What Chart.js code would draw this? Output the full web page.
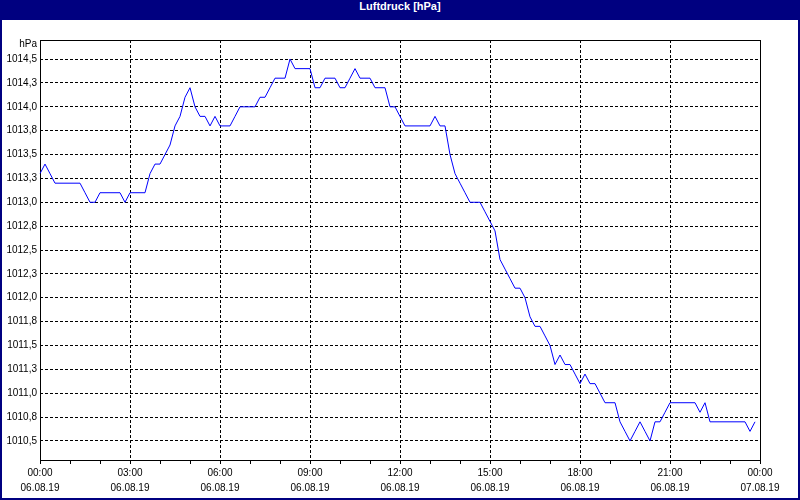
<!DOCTYPE html>
<html>
<head>
<meta charset="utf-8">
<script src="https://cdn.jsdelivr.net/npm/chart.js@4.4.1/dist/chart.umd.min.js"></script>
<style>
  html, body { margin: 0; padding: 0; background: #fff; }
  #frame {
    width: 800px; height: 500px; box-sizing: border-box;
    border: 2px solid #000080; border-top: 0;
  }
  #title {
    height: 20px; line-height: 19px; background: #000080; color: #fff;
    font: bold 11px "Liberation Sans", sans-serif; text-align: center;
  }
  canvas { display: block; }
</style>
</head>
<body>
<div id="frame">
  <div id="title">Luftdruck [hPa]</div>
  <canvas id="myChart" width="796" height="478"></canvas>
</div>
<script>
// Luftdruck, 10-Minuten-Werte vom 06.08.19
const pressure = [
  1013.3, 1013.4, 1013.3, 1013.2, 1013.2, 1013.2, 1013.2, 1013.2, 1013.2, 1013.1,
  1013.0, 1013.0, 1013.1, 1013.1, 1013.1, 1013.1, 1013.1, 1013.0, 1013.1, 1013.1,
  1013.1, 1013.1, 1013.3, 1013.4, 1013.4, 1013.5, 1013.6, 1013.8, 1013.9, 1014.1,
  1014.2, 1014.0, 1013.9, 1013.9, 1013.8, 1013.9, 1013.8, 1013.8, 1013.8, 1013.9,
  1014.0, 1014.0, 1014.0, 1014.0, 1014.1, 1014.1, 1014.2, 1014.3, 1014.3, 1014.3,
  1014.5, 1014.4, 1014.4, 1014.4, 1014.4, 1014.2, 1014.2, 1014.3, 1014.3, 1014.3,
  1014.2, 1014.2, 1014.3, 1014.4, 1014.3, 1014.3, 1014.3, 1014.2, 1014.2, 1014.2,
  1014.0, 1014.0, 1013.9, 1013.8, 1013.8, 1013.8, 1013.8, 1013.8, 1013.8, 1013.9,
  1013.8, 1013.8, 1013.5, 1013.3, 1013.2, 1013.1, 1013.0, 1013.0, 1013.0, 1012.9,
  1012.8, 1012.7, 1012.4, 1012.3, 1012.2, 1012.1, 1012.1, 1012.0, 1011.8, 1011.7,
  1011.7, 1011.6, 1011.5, 1011.3, 1011.4, 1011.3, 1011.3, 1011.2, 1011.1, 1011.2,
  1011.1, 1011.1, 1011.0, 1010.9, 1010.9, 1010.9, 1010.7, 1010.6, 1010.5, 1010.6,
  1010.7, 1010.6, 1010.5, 1010.7, 1010.7, 1010.8, 1010.9, 1010.9, 1010.9, 1010.9,
  1010.9, 1010.9, 1010.8, 1010.9, 1010.7, 1010.7, 1010.7, 1010.7, 1010.7, 1010.7,
  1010.7, 1010.7, 1010.6, 1010.7,
];

const xTickTimes = ['00:00', '03:00', '06:00', '09:00', '12:00', '15:00', '18:00', '21:00', '00:00'];
const xTickDates = ['06.08.19', '06.08.19', '06.08.19', '06.08.19', '06.08.19', '06.08.19', '06.08.19', '06.08.19', '07.08.19'];
const yTicks = [1010.5, 1010.75, 1011.0, 1011.25, 1011.5, 1011.75, 1012.0, 1012.25, 1012.5,
  1012.75, 1013.0, 1013.25, 1013.5, 1013.75, 1014.0, 1014.25, 1014.5];
const yUnit = 'hPa';

// one category per 10 minutes, 00:00 .. 24:00
const labels = [];
for (let m = 0; m <= 1440; m += 10) {
  const h = Math.floor(m / 60) % 24, mm = m % 60;
  labels.push(String(h).padStart(2, '0') + ':' + String(mm).padStart(2, '0'));
}

const fontFamily = '"Liberation Sans", sans-serif';

const framePlugin = {
  id: 'frame',
  beforeDatasetsDraw(chart) {
    const { ctx, chartArea: a } = chart;
    ctx.save();
    ctx.strokeStyle = '#000';
    ctx.lineWidth = 1;
    ctx.strokeRect(Math.round(a.left) + 0.5, Math.round(a.top) + 0.5,
      Math.round(a.right - a.left), Math.round(a.bottom - a.top));
    ctx.restore();
  },
  afterDraw(chart) {
    const { ctx, chartArea: a } = chart;
    ctx.save();
    ctx.fillStyle = '#000';
    ctx.font = '10px ' + fontFamily;
    ctx.textAlign = 'right';
    ctx.textBaseline = 'middle';
    ctx.fillText(yUnit, a.left - 3, a.top + 4);
    ctx.restore();
  },
};

const ctx = document.getElementById('myChart').getContext('2d');
const myChart = new Chart(ctx, {
  type: 'line',
  data: {
    labels: labels,
    datasets: [
      {
        label: 'Luftdruck',
        data: pressure,
        borderColor: '#0000ff',
        borderWidth: 1,
        pointRadius: 0,
        tension: 0,
        fill: false,
      },
    ],
  },
  options: {
    responsive: false,
    animation: false,
    layout: { padding: { left: 0, top: 20, right: 38, bottom: 0 } },
    plugins: {
      legend: { display: false },
      tooltip: { enabled: false },
    },
    scales: {
      x: {
        afterFit(scale) { scale.height = 38; },
        border: { display: false, dash: [3, 2] },
        grid: {
          color: (c) => (c.index % 18 === 0 && c.index > 0 && c.index < 144) ? '#000' : 'rgba(0,0,0,0)',
          tickColor: (c) => (c.index % 6 === 0) ? '#000' : 'rgba(0,0,0,0)',
          tickLength: 4,
          lineWidth: 1,
        },
        ticks: {
          autoSkip: false,
          maxRotation: 0,
          minRotation: 0,
          padding: 2,
          color: '#000',
          font: { family: fontFamily, size: 10, lineHeight: 1.5 },
          callback: (value, index) => index % 18 === 0 ? [xTickTimes[index / 18], xTickDates[index / 18]] : '',
        },
      },
      y: {
        min: 1010.3,
        max: 1014.7,
        afterFit(scale) { scale.width = 38; },
        afterBuildTicks(scale) { scale.ticks = yTicks.map((v) => ({ value: v })); },
        border: { display: false, dash: [3, 2] },
        grid: { color: '#000', drawTicks: false, lineWidth: 1 },
        ticks: {
          padding: 3,
          color: '#000',
          font: { family: fontFamily, size: 10 },
          callback: (v) => v.toFixed(1).replace('.', ','),
        },
      },
    },
  },
  plugins: [framePlugin],
});
</script>
</body>
</html>
